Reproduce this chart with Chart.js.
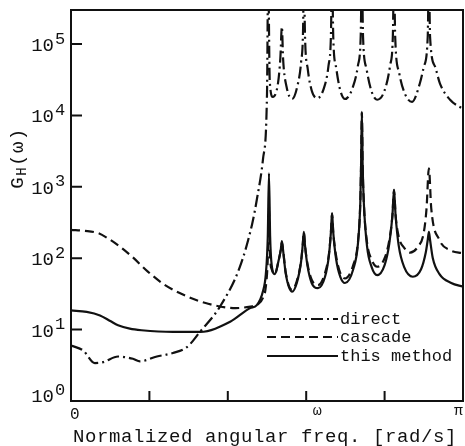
<!DOCTYPE html>
<html>
<head>
<meta charset="utf-8">
<script src="https://cdn.jsdelivr.net/npm/chart.js@4/dist/chart.umd.min.js"></script>
<style>
  html, body { margin: 0; padding: 0; background: #fff; }
  canvas { display: block; }
</style>
</head>
<body>
<canvas id="gh" width="465" height="446"></canvas>
<script>
// x is normalized angular frequency as a fraction of pi
const directX = [0, 0.031, 0.061, 0.082, 0.12, 0.158, 0.176, 0.219, 0.26, 0.296, 0.329, 0.38, 0.431, 0.462, 0.474, 0.49,
  0.5, 0.503, 0.507, 0.515, 0.528, 0.534, 0.538, 0.541, 0.55, 0.564,
  0.577, 0.587, 0.592, 0.594, 0.597, 0.604, 0.614, 0.628,
  0.645, 0.657, 0.663, 0.666, 0.669, 0.677, 0.687, 0.699,
  0.718, 0.732, 0.739, 0.742, 0.745, 0.754, 0.766, 0.781,
  0.8, 0.814, 0.821, 0.824, 0.827, 0.837, 0.852, 0.87,
  0.89, 0.9, 0.91, 0.913, 0.916, 0.929, 0.941, 0.967, 1.0];
const directY = [6.0, 5.1, 3.4, 3.5, 4.2, 3.9, 3.6, 4.2, 4.7, 5.7, 9.3, 21, 76, 300, 660, 2500,
  20000, 1e6, 30200, 18200, 28200, 63100, 174000, 63100, 25100, 17000,
  25100, 56200, 158000, 1e6, 126000, 44700, 22400, 17400,
  24000, 50100, 126000, 1e6, 126000, 44700, 22400, 17000,
  24000, 50100, 126000, 1e6, 126000, 44700, 22400, 16600,
  22400, 50100, 126000, 1e6, 126000, 39800, 20000, 15500,
  28200, 47900, 126000, 1e6, 126000, 47900, 28200, 16600, 12300];

const cascadeX = [0, 0.035, 0.069, 0.094, 0.125, 0.156, 0.196, 0.24, 0.304, 0.35, 0.42, 0.458, 0.474,
  0.49, 0.497, 0.502, 0.505, 0.508, 0.512, 0.52,
  0.53, 0.535, 0.538, 0.541, 0.548, 0.564,
  0.576, 0.587, 0.591, 0.594, 0.597, 0.603, 0.614, 0.63,
  0.648, 0.658, 0.663, 0.666, 0.669, 0.676, 0.687, 0.699,
  0.72, 0.732, 0.738, 0.74, 0.742, 0.744, 0.747, 0.755, 0.767, 0.781,
  0.8, 0.812, 0.82, 0.824, 0.828, 0.836, 0.85, 0.865,
  0.885, 0.9, 0.907, 0.913, 0.919, 0.94, 0.967, 1.0];
const cascadeY = [250, 242, 225, 190, 145, 105, 65, 42, 28, 23, 20, 21, 22,
  28, 40, 100, 500, 100, 70, 60,
  95, 130, 165, 130, 62, 36,
  48, 92, 150, 230, 150, 85, 50, 42,
  62, 115, 230, 420, 230, 110, 62, 52,
  80, 170, 600, 2000, 11000, 2000, 600, 170, 95, 76,
  100, 180, 400, 900, 400, 200, 140, 120,
  145, 230, 500, 1820, 500, 180, 130, 117];

const methodX = [0, 0.04, 0.074, 0.1, 0.12, 0.15, 0.18, 0.26, 0.33, 0.406, 0.457, 0.474, 0.49,
  0.497, 0.502, 0.505, 0.508, 0.512, 0.52,
  0.53, 0.535, 0.538, 0.541, 0.548, 0.564,
  0.576, 0.587, 0.591, 0.594, 0.597, 0.603, 0.614, 0.63,
  0.648, 0.658, 0.663, 0.666, 0.669, 0.676, 0.687, 0.699,
  0.72, 0.732, 0.738, 0.74, 0.742, 0.744, 0.747, 0.755, 0.767, 0.781,
  0.8, 0.812, 0.82, 0.824, 0.828, 0.836, 0.85, 0.872,
  0.893, 0.905, 0.91, 0.913, 0.916, 0.923, 0.94, 0.97, 1.0];
const methodY = [18.6, 17.7, 15.8, 13.2, 11.5, 10.3, 9.8, 9.3, 9.3, 12.9, 20, 22, 35,
  60, 200, 1550, 200, 80, 60,
  95, 130, 174, 130, 60, 34,
  45, 90, 150, 234, 150, 80, 45, 38,
  55, 110, 230, 427, 230, 100, 55, 45,
  70, 160, 600, 2000, 11200, 2000, 600, 150, 75, 58,
  80, 160, 400, 912, 400, 150, 75, 55,
  70, 120, 180, 234, 180, 100, 60, 45, 40];

const seriesNames = ['direct', 'cascade', 'this method'];
const yTickExps = [0, 1, 2, 3, 4, 5];
const xTickValues = [0, 0.2, 0.4, 0.6, 0.8, 1.0];
const xTickLabels = ['0', '', '', 'ω', '', 'π'];

const pts = (xs, ys) => xs.map((x, i) => ({ x: x, y: ys[i] }));
const INK = '#111';
const MONO = '"Liberation Mono", "DejaVu Sans Mono", monospace';

// axes frame, inward ticks, labels and the in-plot legend
const paperAxes = {
  id: 'paperAxes',
  afterDraw(chart) {
    const { ctx, chartArea: a, scales: { x, y } } = chart;
    ctx.save();
    ctx.strokeStyle = INK;
    ctx.fillStyle = INK;
    ctx.lineWidth = 2;
    ctx.setLineDash([]);
    ctx.strokeRect(a.left, a.top, a.right - a.left, a.bottom - a.top);

    ctx.beginPath();
    yTickExps.forEach(e => {
      const py = y.getPixelForValue(Math.pow(10, e));
      ctx.moveTo(a.left, py); ctx.lineTo(a.left + 11, py);
    });
    xTickValues.forEach(v => {
      const px = x.getPixelForValue(v);
      ctx.moveTo(px, a.bottom); ctx.lineTo(px, a.bottom - 10);
    });
    ctx.stroke();

    // y tick labels 10^n
    ctx.textBaseline = 'middle';
    yTickExps.forEach(e => {
      const py = y.getPixelForValue(Math.pow(10, e));
      const cy = Math.min(py + 2, a.bottom - 4);
      ctx.font = '19px ' + MONO;
      ctx.textAlign = 'right';
      ctx.fillText('10', 54, cy);
      ctx.font = '17px ' + MONO;
      ctx.textAlign = 'left';
      ctx.fillText(String(e), 55, cy - 7);
    });

    // x tick labels
    xTickValues.forEach((v, i) => {
      const t = xTickLabels[i];
      if (!t) return;
      const px = x.getPixelForValue(v);
      if (i === 0) {
        ctx.font = '16px ' + MONO;
        ctx.textAlign = 'left';
        ctx.fillText(t, px - 1, a.bottom + 14);
      } else if (i === xTickValues.length - 1) {
        ctx.font = '15px ' + MONO;
        ctx.textAlign = 'right';
        ctx.fillText(t, px, a.bottom + 10);
      } else {
        ctx.font = '15px ' + MONO;
        ctx.textAlign = 'center';
        ctx.fillText(t, px + 11, a.bottom + 10);
      }
    });

    // x title
    ctx.font = '19px ' + MONO;
    ctx.textAlign = 'center';
    ctx.textBaseline = 'alphabetic';
    ctx.letterSpacing = '0.6px';
    ctx.fillText('Normalized angular freq. [rad/s]', 265, 442);

    // y title G_H(ω)
    ctx.translate(18, 158);
    ctx.rotate(-Math.PI / 2);
    ctx.letterSpacing = '1.5px';
    ctx.textAlign = 'left';
    ctx.textBaseline = 'middle';
    ctx.font = '19px ' + MONO;
    const wG = ctx.measureText('G').width;
    ctx.font = '14px ' + MONO;
    const wH = ctx.measureText('H').width;
    ctx.font = '19px ' + MONO;
    const wP = ctx.measureText('(ω)').width;
    let tx = -(wG + wH + wP) / 2;
    ctx.fillText('G', tx, 0); tx += wG;
    ctx.font = '14px ' + MONO;
    ctx.fillText('H', tx, 4); tx += wH;
    ctx.font = '19px ' + MONO;
    ctx.fillText('(ω)', tx, 0);
    ctx.setTransform(1, 0, 0, 1, 0, 0);
    ctx.letterSpacing = '0px';

    // legend
    const rows = [319, 337, 356];
    ctx.font = '17px ' + MONO;
    ctx.textAlign = 'left';
    ctx.textBaseline = 'middle';
    chart.data.datasets.forEach((ds, i) => {
      const ly = rows[i];
      ctx.lineWidth = 2;
      ctx.setLineDash(ds.borderDash || []);
      ctx.beginPath();
      ctx.moveTo(267, ly); ctx.lineTo(338, ly);
      ctx.stroke();
      ctx.setLineDash([]);
      ctx.fillText(ds.label, 340, ly);
    });
    ctx.restore();
  }
};

new Chart(document.getElementById('gh').getContext('2d'), {
  type: 'line',
  data: {
    datasets: [
      { label: seriesNames[0], data: pts(directX, directY), borderDash: [12, 4, 2, 4] },
      { label: seriesNames[1], data: pts(cascadeX, cascadeY), borderDash: [9, 5] },
      { label: seriesNames[2], data: pts(methodX, methodY), borderDash: [] }
    ]
  },
  options: {
    responsive: false,
    animation: false,
    devicePixelRatio: 1,
    layout: { padding: { left: 71, right: 2, top: 10, bottom: 45 } },
    elements: {
      line: { borderColor: INK, borderWidth: 2.2, fill: false, cubicInterpolationMode: 'monotone' },
      point: { radius: 0 }
    },
    scales: {
      x: { type: 'linear', min: 0, max: 1, display: false },
      y: { type: 'logarithmic', min: 1, max: 3e5, display: false }
    },
    plugins: {
      legend: { display: false },
      tooltip: { enabled: false }
    }
  },
  plugins: [paperAxes]
});
</script>
</body>
</html>
